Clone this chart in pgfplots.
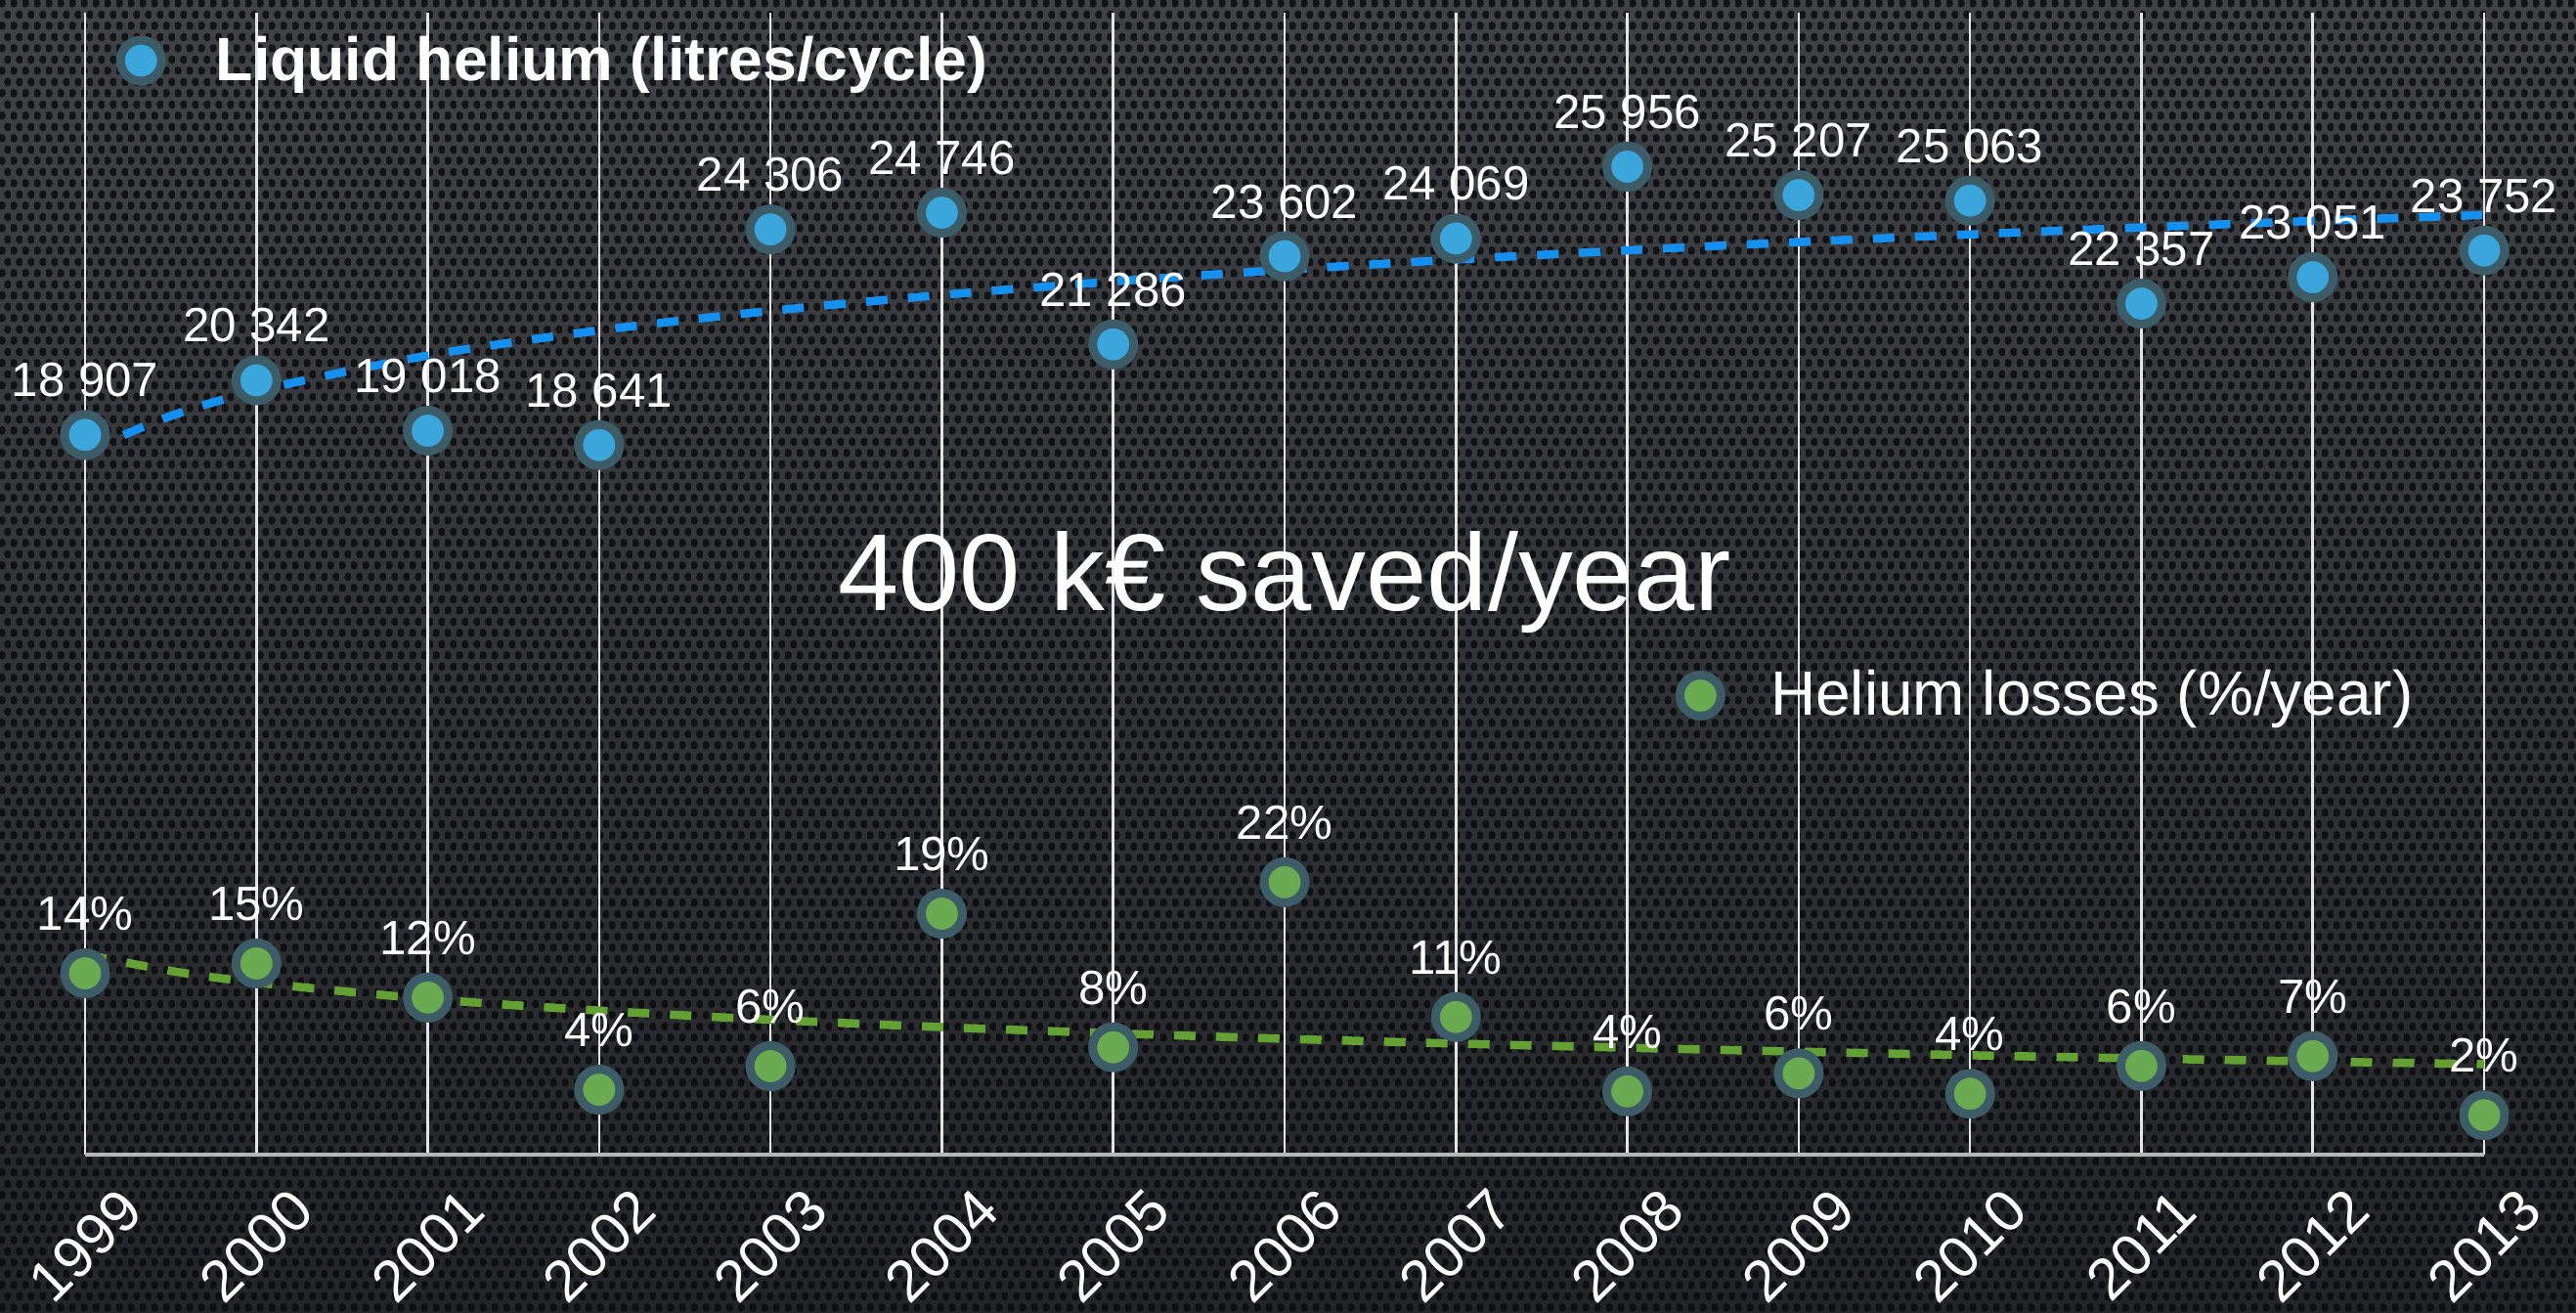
\documentclass[border=0pt]{standalone}
\usepackage{pgfplots}
\pgfplotsset{compat=1.18}
\usepackage{fontspec}
\setmainfont{Liberation Sans}
\usetikzlibrary{patterns}

\definecolor{bgtop}{RGB}{64,66,70}
\definecolor{bgbot}{RGB}{34,36,39}
\definecolor{hole}{RGB}{8,9,10}
\definecolor{ring}{RGB}{60,92,104}
\definecolor{bfill}{RGB}{58,166,220}
\definecolor{gfill}{RGB}{106,170,80}
\definecolor{btrend}{RGB}{20,145,240}
\definecolor{gtrend}{RGB}{98,161,50}
\definecolor{gridc}{RGB}{228,228,228}

\pgfdeclarepatternformonly{holes}{\pgfqpoint{0pt}{0pt}}{\pgfqpoint{3.54pt}{6.5pt}}{\pgfqpoint{3.54pt}{6.5pt}}{%
 \pgfpathellipse{\pgfqpoint{0.89pt}{1.62pt}}{\pgfqpoint{1.15pt}{0pt}}{\pgfqpoint{0pt}{1.25pt}}%
 \pgfpathellipse{\pgfqpoint{2.66pt}{4.87pt}}{\pgfqpoint{1.15pt}{0pt}}{\pgfqpoint{0pt}{1.25pt}}%
 \pgfusepath{fill}}

\newcommand\lbl{\fontsize{14}{16}\selectfont}

\pgfplotstableread[col sep=comma]{
x,y,l
1999,18907,18 907
2000,20342,20 342
2001,19018,19 018
2002,18641,18 641
2003,24306,24 306
2004,24746,24 746
2005,21286,21 286
2006,23602,23 602
2007,24069,24 069
2008,25956,25 956
2009,25207,25 207
2010,25063,25 063
2011,22357,22 357
2012,23051,23 051
2013,23752,23 752
}\helium

\pgfplotstableread[col sep=comma]{
x,y,l
1999,14.15,14\%
2000,15.0,15\%
2001,12.07,12\%
2002,4.16,4\%
2003,6.18,6\%
2004,19.27,19\%
2005,7.8,8\%
2006,21.97,22\%
2007,10.4,11\%
2008,4.02,4\%
2009,5.56,6\%
2010,3.81,4\%
2011,6.2,6\%
2012,7.04,7\%
2013,1.97,2\%
}\losses

\begin{document}
\begin{tikzpicture}
\fill[top color=bgtop, bottom color=bgbot] (0,0) rectangle (263.5mm,134.3mm);
\fill[pattern=holes, pattern color=hole, fill opacity=0.8] (0,0) rectangle (263.5mm,134.3mm);

\begin{axis}[
  at={(8.7mm,16.2mm)}, anchor=south west,
  scale only axis, width=245.4mm, height=116.8mm,
  xmin=1999, xmax=2013, ymin=0, ymax=30000,
  axis x line*=bottom, axis y line=none,
  x axis line style={draw=gridc!80!black, line width=0.45mm, -},
  xtick={1999,2000,2001,2002,2003,2004,2005,2006,2007,2008,2009,2010,2011,2012,2013},
  xticklabels={1999,2000,2001,2002,2003,2004,2005,2006,2007,2008,2009,2010,2011,2012,2013},
  xtick style={draw=none},
  xmajorgrids, grid style={draw=gridc, line width=0.25mm},
  xticklabel style={text=white, font=\fontsize{17}{20}\selectfont, yshift=-9.3mm, rotate=45, anchor=center},
  clip=false,
  legend style={draw=none, fill=none, text=white, inner sep=0pt,
    font=\bfseries\fontsize{17.8}{21}\selectfont,
    at={(rel axis cs:0,0.958)}, xshift=3.55mm, anchor=west},
  legend image code/.code={\draw[#1] plot coordinates {(0mm,0mm)}; \path (6.9mm,0mm);},
]
\addplot[only marks, mark=*, mark size=2.1mm,
  mark options={draw=ring, fill=bfill, line width=0.9mm},
  nodes near coords, point meta=explicit symbolic,
  nodes near coords style={anchor=center, yshift=5.6mm, font=\lbl, text=white}]
  table[x=x, y=y, meta=l] {\helium};
\addlegendentry{Liquid helium (litres/cycle)}
\addplot[btrend, line width=0.85mm, dash pattern=on 2.2mm off 2.1mm, smooth, forget plot] coordinates {
(1999,18472) (1999.5,19403) (2000,20063) (2001,20993) (2002,21654) (2003,22166) (2004,22584)
(2005,22938) (2006,23244) (2007,23515) (2008,23756) (2009,23975) (2010,24175)
(2011,24358) (2012,24529) (2013,24687)};
\end{axis}

\begin{axis}[
  at={(8.7mm,16.2mm)}, anchor=south west,
  scale only axis, width=245.4mm, height=116.8mm,
  xmin=1999, xmax=2013, ymin=-1.41, ymax=96.6,
  hide axis, clip=false,
  legend style={draw=none, fill=none, text=white, inner sep=0pt,
    font=\fontsize{18.2}{21}\selectfont,
    at={(rel axis cs:0.6645,0.402)}, anchor=west},
  legend image code/.code={\draw[#1] plot coordinates {(0mm,0mm)}; \path (6.4mm,0mm);},
]
\addplot[only marks, mark=*, mark size=2.1mm,
  mark options={draw=ring, fill=gfill, line width=0.9mm},
  nodes near coords, point meta=explicit symbolic,
  nodes near coords style={anchor=center, yshift=6.1mm, font=\lbl, text=white}]
  table[x=x, y=y, meta=l] {\losses};
\addlegendentry{Helium losses (\%/year)}
\addplot[gtrend, line width=0.85mm, dash pattern=on 2.2mm off 2.1mm, smooth, forget plot] coordinates {
(1999,15.77) (1999.5,14.36) (2000,13.36) (2001,11.95) (2002,10.95) (2003,10.17) (2004,9.53)
(2005,9.00) (2006,8.53) (2007,8.12) (2008,7.76) (2009,7.43) (2010,7.12)
(2011,6.84) (2012,6.59) (2013,6.35)};
\end{axis}

\node[text=white, font=\fontsize{31.8}{38}\selectfont, anchor=base] at (131.4mm,71.8mm) {400 k€ saved/year};

\pgfresetboundingbox
\useasboundingbox (0,0) rectangle (263.5mm,134.3mm);
\end{tikzpicture}
\end{document}
